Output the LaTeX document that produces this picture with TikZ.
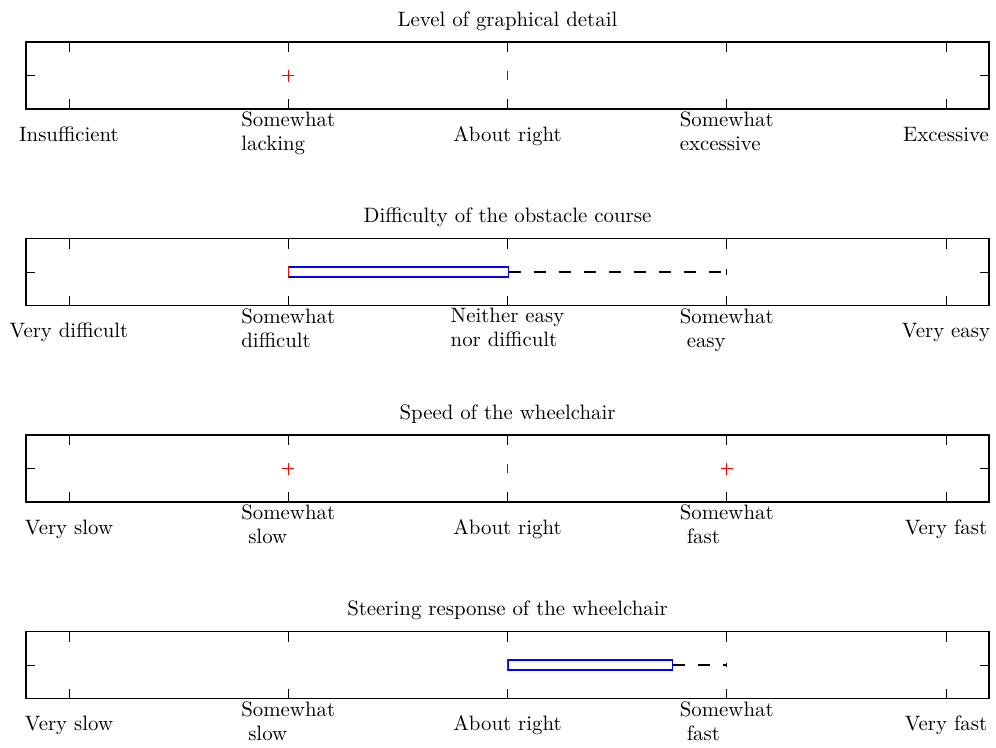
\documentclass[tikz,border=0pt]{standalone}
\definecolor{medmix}{RGB}{175,0,80}
\begin{document}
\begin{tikzpicture}[x=0.48pt,y=-0.48pt,
  ax/.style={line width=0.6pt,draw=black},
  tck/.style={line width=0.45pt,draw=black},
  boxq/.style={draw=blue,line width=0.5pt},
  med/.style={draw=red,line width=0.7pt},
  medz/.style={draw=medmix,line width=0.9pt},
  whisk/.style={draw=black,line width=0.5pt,dash pattern=on 6pt off 6pt},
  wcap/.style={draw=black,line width=0.5pt},
  outl/.style={draw=red,line width=0.5pt},
  lbl/.style={inner sep=0pt,font=\fontsize{10}{11.5}\selectfont},
  one/.style={lbl,anchor=base},
  two/.style={lbl,anchor=north,align=left},
  ttl/.style={lbl,anchor=base}]
\useasboundingbox (0,0) rectangle (996,747);
\def\ind{\hspace*{3.3pt}}
% frames and ticks
\foreach \t in {42,238.5,435,631.5} {
  \draw[ax] (26,\t) rectangle (989,\t+67);
  \foreach \k in {0,...,4} {
    \draw[tck] (69+219.25*\k,\t) -- ++(0,10);
    \draw[tck] (69+219.25*\k,\t+67) -- ++(0,-10);
  }
  \draw[tck] (26,\t+33.5) -- ++(9,0);
  \draw[tck] (989,\t+33.5) -- ++(-9,0);
}
% ---------- panel 1 ----------
\node[ttl] (t1) at (507.5,26) {Level of graphical detail};
\node[one] (a1) at (69,141) {Insufficient};
\node[two] (a2) at (288.25,111.5) {Somewhat\\lacking};
\node[one] (a3) at (507.5,141) {About right};
\node[two] (a4) at (726.75,111.5) {Somewhat\\excessive};
\node[one] (a5) at (946,141) {Excessive};
\draw[outl] (282.25,75.5) -- (294.25,75.5) (288.25,69.5) -- (288.25,81.5);
\draw[medz] (507.5,71) -- (507.5,80);
% ---------- panel 2 ----------
\node[ttl] (t2) at (507.5,222.5) {Difficulty of the obstacle course};
\node[one] (b1) at (69,337.5) {Very difficult};
\node[two] (b2) at (288.25,308) {Somewhat\\difficult};
\node[two] (b3) at (507.5,308) {Neither easy\\nor difficult};
\node[two] (b4) at (726.75,308) {Somewhat\\\ind easy};
\node[one] (b5) at (946,337.5) {Very easy};
\node[boxq,minimum width=219.25*0.48pt,minimum height=10*0.48pt,inner sep=0pt,anchor=west] (bx2) at (288.25,272) {};
\draw[med] (bx2.north west) -- (bx2.south west);
\coordinate (w2) at (726.75,272);
\draw[whisk] (bx2.east) -- (w2);
\draw[wcap] ([yshift=-3*0.48pt]w2) -- ([yshift=3*0.48pt]w2);
% ---------- panel 3 ----------
\node[ttl] (t3) at (507.5,419) {Speed of the wheelchair};
\node[one] (c1) at (69,534) {Very slow};
\node[two] (c2) at (288.25,504.5) {Somewhat\\\ind slow};
\node[one] (c3) at (507.5,534) {About right};
\node[two] (c4) at (726.75,504.5) {Somewhat\\\ind fast};
\node[one] (c5) at (946,534) {Very fast};
\draw[outl] (282.25,468.5) -- (294.25,468.5) (288.25,462.5) -- (288.25,474.5);
\draw[outl] (720.75,468.5) -- (732.75,468.5) (726.75,462.5) -- (726.75,474.5);
\draw[medz] (507.5,464) -- (507.5,473);
% ---------- panel 4 ----------
\node[ttl] (t4) at (507.5,615.5) {Steering response of the wheelchair};
\node[one] (d1) at (69,730.5) {Very slow};
\node[two] (d2) at (288.25,701) {Somewhat\\\ind slow};
\node[one] (d3) at (507.5,730.5) {About right};
\node[two] (d4) at (726.75,701) {Somewhat\\\ind fast};
\node[one] (d5) at (946,730.5) {Very fast};
\node[boxq,minimum width=164*0.48pt,minimum height=10*0.48pt,inner sep=0pt,anchor=west] (bx4) at (507.5,665) {};
\draw[medz] (bx4.north west) -- (bx4.south west);
\coordinate (w4) at (726.75,665);
\draw[whisk] (bx4.east) -- (w4);
\draw[wcap] ([yshift=-2*0.48pt]w4) -- ([yshift=2*0.48pt]w4);
\end{tikzpicture}
\end{document}
